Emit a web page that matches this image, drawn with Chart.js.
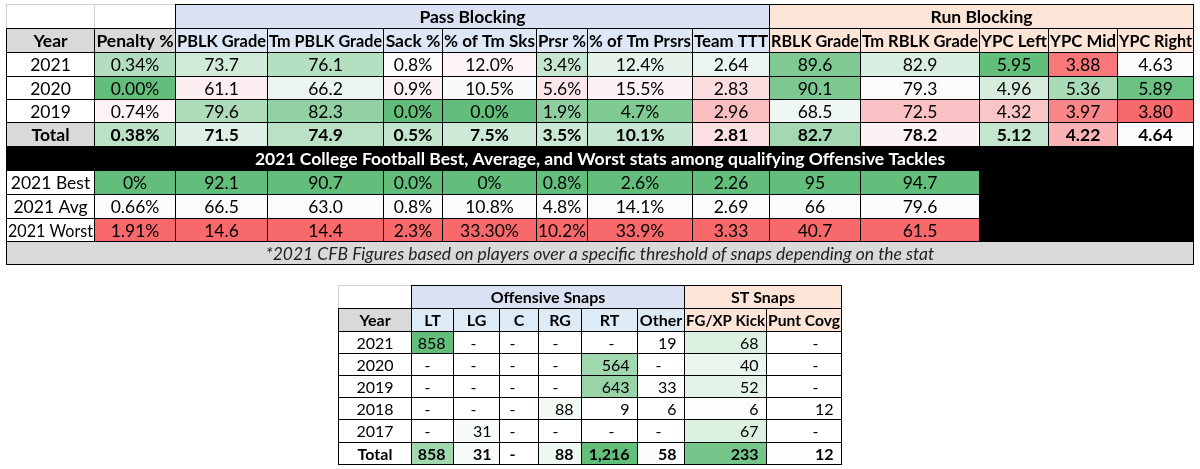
<!DOCTYPE html>
<html><head><meta charset="utf-8">
<script src="https://cdn.jsdelivr.net/npm/chart.js@4.4.1/dist/chart.umd.min.js"></script>
<style>html,body{margin:0;padding:0;background:#fff}#wrap{width:1200px;height:469px;position:relative}</style>
</head><body><div id="wrap"><canvas id="c"></canvas></div>
<script>
// ---------- DATA ----------
const passGroupTitle = 'Pass Blocking';
const runGroupTitle = 'Run Blocking';
const yearHeader = 'Year';
const years = ['2021', '2020', '2019', 'Total'];
const statColumns = ['Penalty %', 'PBLK Grade', 'Tm PBLK Grade', 'Sack %', '% of Tm Sks', 'Prsr %',
  '% of Tm Prsrs', 'Team TTT', 'RBLK Grade', 'Tm RBLK Grade', 'YPC Left', 'YPC Mid', 'YPC Right'];
const penaltyPct   = ['0.34%', '0.00%', '0.74%', '0.38%'];
const pblkGrade    = ['73.7', '61.1', '79.6', '71.5'];
const tmPblkGrade  = ['76.1', '66.2', '82.3', '74.9'];
const sackPct      = ['0.8%', '0.9%', '0.0%', '0.5%'];
const pctOfTmSks   = ['12.0%', '10.5%', '0.0%', '7.5%'];
const prsrPct      = ['3.4%', '5.6%', '1.9%', '3.5%'];
const pctOfTmPrsrs = ['12.4%', '15.5%', '4.7%', '10.1%'];
const teamTTT      = ['2.64', '2.83', '2.96', '2.81'];
const rblkGrade    = ['89.6', '90.1', '68.5', '82.7'];
const tmRblkGrade  = ['82.9', '79.3', '72.5', '78.2'];
const ypcLeft      = ['5.95', '4.96', '4.32', '5.12'];
const ypcMid       = ['3.88', '5.36', '3.97', '4.22'];
const ypcRight     = ['4.63', '5.89', '3.80', '4.64'];

const benchmarkTitle = '2021 College Football Best, Average, and Worst stats among qualifying Offensive Tackles';
const benchmarkRows = ['2021 Best', '2021 Avg', '2021 Worst'];
const bestValues  = ['0%', '92.1', '90.7', '0.0%', '0%', '0.8%', '2.6%', '2.26', '95', '94.7'];
const avgValues   = ['0.66%', '66.5', '63.0', '0.8%', '10.8%', '4.8%', '14.1%', '2.69', '66', '79.6'];
const worstValues = ['1.91%', '14.6', '14.4', '2.3%', '33.30%', '10.2%', '33.9%', '3.33', '40.7', '61.5'];
const footnote = '*2021 CFB Figures based on players over a specific threshold of snaps depending on the stat';

const offSnapTitle = 'Offensive Snaps';
const stSnapTitle = 'ST Snaps';
const snapYears = ['2021', '2020', '2019', '2018', '2017', 'Total'];
const snapColumns = ['LT', 'LG', 'C', 'RG', 'RT', 'Other', 'FG/XP Kick', 'Punt Covg'];
const ltSnaps    = ['858', '-', '-', '-', '-', '858'];
const lgSnaps    = ['-', '-', '-', '-', '31', '31'];
const cSnaps     = ['-', '-', '-', '-', '-', '-'];
const rgSnaps    = ['-', '-', '-', '88', '-', '88'];
const rtSnaps    = ['-', '564', '643', '9', '-', '1,216'];
const otherSnaps = ['19', '-', '33', '6', '-', '58'];
const fgxpSnaps  = ['68', '40', '52', '6', '67', '233'];
const puntSnaps  = ['-', '-', '-', '12', '-', '12'];

// ---------- LAYOUT / STYLE (not data) ----------
const topColEdges = [6, 94, 175, 267, 383, 442, 536, 587, 692, 769, 860, 979, 1048, 1117, 1193];
const topRowEdges = [4, 28, 52, 76, 99, 122, 146, 170, 194, 218, 241, 264];
const snapColEdges = [338, 411, 453, 499, 538, 581, 637, 684, 766, 841];
const snapRowEdges = [285, 308, 331, 353, 375, 397, 419, 442, 464];
// green intensity of the snap cells (2-colour scale shading)
const snapShade = [
  [1.00, 0, 0, 0, 0, 0, 0.22, 0],
  [0, 0, 0, 0, 0.60, 0, 0.14, 0],
  [0, 0, 0, 0, 0.66, 0.02, 0.18, 0],
  [0, 0, 0, 0.08, 0, 0, 0.02, 0],
  [0, 0.05, 0, 0, 0, 0, 0.22, 0],
  [0.60, 0.05, 0, 0.10, 1.00, 0.03, 0.88, 0.02]
];
const TOP_SIZE = 17.5, SNAP_SIZE = 16;
const GREEN = [99, 190, 123], MIDWHITE = [252, 252, 255], WHITE = [255, 255, 255], RED = [248, 105, 107];
const BLUE_GROUP = '#D9E1F2', BLUE_HEAD = '#DDE7F5', BLUE_HEAD2 = '#DDEBF7', ORANGE = '#FCE4D6', GRAY = '#D9D9D9';
const FONT = 'Lato, "Open Sans", sans-serif';

function mix(a, b, t) {
  t = Math.max(0, Math.min(1, t));
  return 'rgb(' + a.map((v, i) => Math.round(v + (b[i] - v) * t)).join(',') + ')';
}
function num(s) { return parseFloat(String(s).replace(/,/g, '')); }
function threeScale(v, best, avg, worst) {
  if ((best - avg) * (v - avg) >= 0) return mix(MIDWHITE, GREEN, (v - avg) / (best - avg));
  return mix(MIDWHITE, RED, (v - avg) / (worst - avg));
}

const statSeries = [penaltyPct, pblkGrade, tmPblkGrade, sackPct, pctOfTmSks, prsrPct, pctOfTmPrsrs,
  teamTTT, rblkGrade, tmRblkGrade, ypcLeft, ypcMid, ypcRight];
const snapSeries = [ltSnaps, lgSnaps, cSnaps, rgSnaps, rtSnaps, otherSnaps, fgxpSnaps, puntSnaps];

function statColor(ci, ri) {
  const v = num(statSeries[ci][ri]);
  if (ci < bestValues.length) return threeScale(v, num(bestValues[ci]), num(avgValues[ci]), num(worstValues[ci]));
  const all = [...ypcLeft, ...ypcMid, ...ypcRight].map(num).sort((a, b) => a - b);
  const n = all.length, med = n % 2 ? all[(n - 1) / 2] : (all[n / 2 - 1] + all[n / 2]) / 2;
  return threeScale(v, all[n - 1], med, all[0]);
}

const tablePlugin = {
  id: 'tablePlugin',
  afterDraw(chart) {
    const ctx = chart.ctx, xs = chart.scales.x, ys = chart.scales.y;
    const X = v => Math.round(xs.getPixelForValue(v)) + 0.5;
    const Y = v => Math.round(ys.getPixelForValue(v)) + 0.5;
    function rect(x0, x1, y0, y1, fill, stroke) {
      const a = X(x0), b = X(x1), c = Y(y0), d = Y(y1);
      if (fill) { ctx.fillStyle = fill; ctx.fillRect(a, c, b - a, d - c); }
      if (stroke) { ctx.strokeStyle = stroke; ctx.lineWidth = 1; ctx.strokeRect(a, c, b - a, d - c); }
    }
    function text(s, x0, x1, y0, y1, o) {
      o = o || {};
      let size = o.size || TOP_SIZE;
      const maxW = X(x1) - X(x0) - 3;
      const setF = () => ctx.font = (o.italic ? 'italic ' : '') + (o.bold ? 'bold ' : '') + size + 'px ' + FONT;
      setF();
      let w = ctx.measureText(s).width;
      while (w * 0.86 > maxW && size > 8) { size -= 0.5; setF(); w = ctx.measureText(s).width; }
      const sx = w > maxW ? maxW / w : 1;   // condense horizontally (Calibri-like width)
      ctx.fillStyle = o.color || '#000';
      ctx.textBaseline = 'middle';
      let x, align;
      if (o.align === 'right') { align = 'right'; x = X(x1) - (o.pad || 8); }
      else if (o.align === 'dash') { align = 'center'; x = X(x1) - 26; }
      else { align = 'center'; x = (X(x0) + X(x1)) / 2; }
      ctx.textAlign = align;
      const yMid = (Y(y0) + Y(y1)) / 2 + 1;
      if (sx < 1) {
        ctx.save(); ctx.translate(x, yMid); ctx.scale(sx, 1); ctx.fillText(s, 0, 0); ctx.restore();
      } else ctx.fillText(s, x, yMid);
    }
    ctx.save();
    const C = topColEdges, R = topRowEdges, last = C.length - 1;
    const blk = '#000';
    // ---- top table: group header row
    rect(C[0], C[1], R[0], R[1], '#fff', '#D0D0D0');
    rect(C[1], C[2], R[0], R[1], '#fff', '#D0D0D0');
    rect(C[2], C[9], R[0], R[1], BLUE_GROUP, blk);
    rect(C[9], C[last], R[0], R[1], ORANGE, blk);
    text(passGroupTitle, C[2], C[9], R[0], R[1], { bold: true });
    text(runGroupTitle, C[9], C[last], R[0], R[1], { bold: true });
    // ---- column header row
    rect(C[0], C[1], R[1], R[2], GRAY, blk);
    text(yearHeader, C[0], C[1], R[1], R[2], { bold: true });
    statColumns.forEach((h, i) => {
      const fill = i === 0 ? GRAY : (i < 8 ? BLUE_HEAD : ORANGE);
      rect(C[i + 1], C[i + 2], R[1], R[2], fill, blk);
      text(h, C[i + 1], C[i + 2], R[1], R[2], { bold: true });
    });
    // ---- year rows
    years.forEach((y, ri) => {
      const isTot = y === 'Total';
      rect(C[0], C[1], R[ri + 2], R[ri + 3], isTot ? GRAY : '#fff', blk);
      text(y, C[0], C[1], R[ri + 2], R[ri + 3], { bold: isTot });
      statSeries.forEach((s, ci) => {
        rect(C[ci + 1], C[ci + 2], R[ri + 2], R[ri + 3], statColor(ci, ri), blk);
        text(s[ri], C[ci + 1], C[ci + 2], R[ri + 2], R[ri + 3], { bold: isTot });
      });
    });
    // ---- benchmark title bar
    rect(C[0], C[last], R[6], R[7], '#000', blk);
    text(benchmarkTitle, C[0], C[last], R[6], R[7], { bold: true, color: '#fff' });
    rect(C[11], C[last], R[7], R[10], '#000', blk);
    const benchSets = [bestValues, avgValues, worstValues];
    const benchFill = ['rgb(99,190,123)', 'rgb(252,252,255)', 'rgb(248,105,107)'];
    benchmarkRows.forEach((lab, ri) => {
      rect(C[0], C[1], R[ri + 7], R[ri + 8], '#fff', blk);
      text(lab, C[0], C[1], R[ri + 7], R[ri + 8]);
      benchSets[ri].forEach((v, ci) => {
        rect(C[ci + 1], C[ci + 2], R[ri + 7], R[ri + 8], benchFill[ri], blk);
        text(v, C[ci + 1], C[ci + 2], R[ri + 7], R[ri + 8]);
      });
    });
    // ---- footnote
    rect(C[0], C[last], R[10], R[11], GRAY, blk);
    text(footnote, C[0], C[last], R[10], R[11], { italic: true, color: '#222' });

    // ---- snaps table
    const S = snapColEdges, Q = snapRowEdges, sl = S.length - 1;
    rect(S[0], S[1], Q[0], Q[1], '#fff', '#D0D0D0');
    rect(S[1], S[7], Q[0], Q[1], BLUE_GROUP, blk);
    rect(S[7], S[sl], Q[0], Q[1], ORANGE, blk);
    text(offSnapTitle, S[1], S[7], Q[0], Q[1], { bold: true, size: SNAP_SIZE });
    text(stSnapTitle, S[7], S[sl], Q[0], Q[1], { bold: true, size: SNAP_SIZE });
    rect(S[0], S[1], Q[1], Q[2], GRAY, blk);
    text(yearHeader, S[0], S[1], Q[1], Q[2], { bold: true, size: SNAP_SIZE });
    snapColumns.forEach((h, i) => {
      rect(S[i + 1], S[i + 2], Q[1], Q[2], i < 6 ? BLUE_HEAD2 : ORANGE, blk);
      text(h, S[i + 1], S[i + 2], Q[1], Q[2], { bold: true, size: SNAP_SIZE });
    });
    snapYears.forEach((y, ri) => {
      const isTot = y === 'Total';
      rect(S[0], S[1], Q[ri + 2], Q[ri + 3], '#fff', blk);
      text(y, S[0], S[1], Q[ri + 2], Q[ri + 3], { bold: isTot, size: SNAP_SIZE });
      snapSeries.forEach((s, ci) => {
        rect(S[ci + 1], S[ci + 2], Q[ri + 2], Q[ri + 3], mix(WHITE, GREEN, snapShade[ri][ci]), blk);
        const v = s[ri];
        text(v, S[ci + 1], S[ci + 2], Q[ri + 2], Q[ri + 3],
          { bold: isTot, size: SNAP_SIZE, align: v === '-' ? 'dash' : 'right', pad: 8 });
      });
    });
    ctx.restore();
  }
};

function makeChart() {
  new Chart(document.getElementById('c'), {
    type: 'scatter',
    data: { datasets: [{ data: [], pointRadius: 0 }] },
    options: {
      responsive: true, maintainAspectRatio: false, animation: false, events: [],
      layout: { padding: 0 },
      plugins: { legend: { display: false }, tooltip: { enabled: false } },
      scales: {
        x: { type: 'linear', min: 0, max: 1200, display: false },
        y: { type: 'linear', min: 0, max: 469, reverse: true, display: false }
      }
    },
    plugins: [tablePlugin]
  });
}
if (document.fonts && document.fonts.load) {
  Promise.all([document.fonts.load('16px Lato'), document.fonts.load('bold 16px Lato'), document.fonts.load('italic 16px Lato')])
    .then(makeChart, makeChart);
} else makeChart();
</script>
</body></html>
